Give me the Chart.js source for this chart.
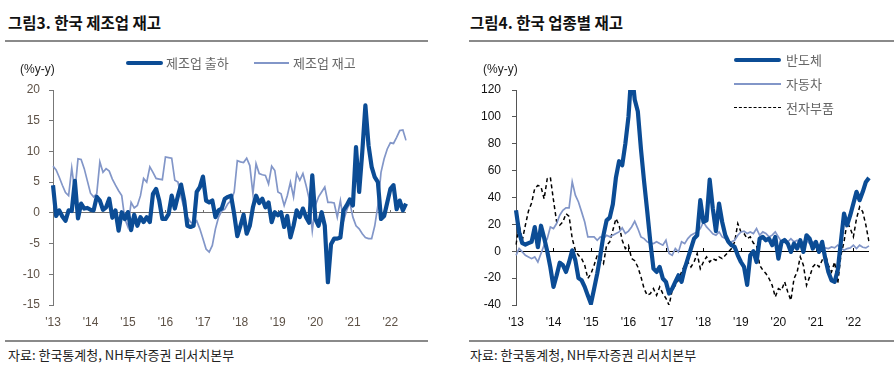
<!DOCTYPE html>
<html>
<head>
<meta charset="utf-8">
<script src="https://cdn.jsdelivr.net/npm/chart.js"></script>
<style>
    body { margin: 0; width: 894px; height: 369px; background: #fff; position: relative; overflow: hidden; font-family: 'Noto Sans CJK KR', sans-serif; }
    .title { position: absolute; top: 12px; font-size: 15.5px; font-weight: 700; color: #111; line-height: 20px; white-space: nowrap; }
    .rule { position: absolute; height: 2px; background: #8a8a8a; }
    .src { position: absolute; top: 346px; font-size: 13px; color: #222; line-height: 18px; white-space: nowrap; }
    .unit { position: absolute; top: 61px; font-family: 'Liberation Sans Narrow', 'Liberation Sans', sans-serif; font-size: 12px; line-height: 16px; color: #222; }
    .lg { position: absolute; font-size: 13px; color: #666; line-height: 16px; white-space: nowrap; }
    .sw { position: absolute; }
    .box { position: absolute; top: 0; width: 447px; height: 369px; }
</style>
</head>
<body>
<div class="title" style="left:8px">그림3. 한국 제조업 재고</div>
<div class="title" style="left:470px">그림4. 한국 업종별 재고</div>
<div class="rule" style="left:5px;width:423px;top:40px"></div>
<div class="rule" style="left:469px;width:425px;top:40px"></div>
<div class="rule" style="left:5px;width:423px;top:340px"></div>
<div class="rule" style="left:469px;width:425px;top:340px"></div>
<div class="src" style="left:8px">자료: 한국통계청, NH투자증권 리서치본부</div>
<div class="src" style="left:470px">자료: 한국통계청, NH투자증권 리서치본부</div>

<div class="box" style="left:0"><canvas id="chart_left" width="447" height="369"></canvas></div>
<div class="box" style="left:447px"><canvas id="chart_right" width="447" height="369"></canvas></div>

<div class="unit" style="left:20px">(%y-y)</div>
<div class="unit" style="left:483px">(%y-y)</div>

<!-- legend, left chart -->
<div class="sw" style="left:126px;top:61px;width:37px;height:4px;border-radius:2px;background:#0b4c95"></div>
<div class="lg" style="left:166px;top:55px">제조업 출하</div>
<div class="sw" style="left:254px;top:62px;width:35px;height:2px;background:#8296c8"></div>
<div class="lg" style="left:293px;top:55px">제조업 재고</div>

<!-- legend, right chart -->
<div class="sw" style="left:734px;top:58px;width:47px;height:4px;border-radius:2px;background:#0b4c95"></div>
<div class="lg" style="left:786px;top:52px">반도체</div>
<div class="sw" style="left:734px;top:83px;width:47px;height:2px;background:#8296c8"></div>
<div class="lg" style="left:786px;top:76px">자동차</div>
<div class="sw" style="left:734px;top:107px;width:47px;height:0;border-top:1.5px dashed #000"></div>
<div class="lg" style="left:786px;top:100px">전자부품</div>

<script>
// tick labels, one per January
var yearTicks = ["'13", "'14", "'15", "'16", "'17", "'18", "'19", "'20", "'21", "'22"];
var monthCount = 114; // Jan 2013 .. Jun 2022

// 그림3: 제조업 출하 / 재고 (%y-y)
var shipment = [
    4.5, -0.5, 0.4, -0.6, -1.3, 0.4, 0.3, 5.2, -0.9, 1.5,
    0.7, 0.8, 0.5, 0.4, 2.6, 2.0, 0.5, 0.9, 2.3, -0.8,
    0.4, -2.9, 0.1, -1.0, 0.1, -2.8, -0.3, -2.1, -0.7, -1.5,
    -0.7, -1.5, 3.1, 3.9, 2.0, -1.0, -1.0, -0.2, 2.8, 0.7,
    2.8, 4.6, 2.0, -2.1, -2.3, -2.1, 3.4, 4.2, 5.9, 2.0,
    1.7, 2.0, -0.7, 0.4, 0.7, 2.3, 2.6, 2.8, -0.2, -3.8,
    -2.1, -0.3, -3.4, -2.1, 0.9, 2.8, 1.6, 2.3, 0.9, 1.7,
    -1.5, 0.1, -0.4, 0.1, -2.3, -0.5, -4.0, -2.1, 0.4, -0.7,
    0.7, -0.7, -1.6, 6.1, -1.0, -2.1, 0.1, -2.1, -11.3, -5.1,
    -4.2, -4.2, -4.0, 0.4, 1.2, 2.2, 1.2, 10.7, 3.4, 9.9,
    17.5, 11.0, 7.5, 5.8, 5.0, -1.0, -0.5, 1.7, 3.9, 4.5,
    0.6, 2.0, 0.4, 1.5
];
var inventory = [
    7.6, 7.0, 5.8, 4.5, 3.3, 2.8, 7.3, 3.4, 8.8, 8.7,
    7.2, 5.2, 3.2, 2.6, 3.1, 8.3, 6.6, 7.2, 6.8, 5.5,
    4.5, 3.6, 2.8, -1.0, -2.3, 1.7, 0.8, 1.2, 2.8, 5.6,
    5.0, 7.5, 6.6, 5.6, 5.5, 5.4, 9.1, 9.0, 8.9, 5.3,
    5.0, 2.6, 0.7, -0.7, -1.5, -1.8, -1.3, -2.6, -4.2, -5.9,
    -6.4, -5.3, -2.6, -0.7, 0.3, 0.6, 1.5, 2.0, 3.4, 8.5,
    8.3, 8.2, 8.9, 7.7, 3.1, 8.0, 6.4, 6.2, 6.1, 4.7,
    7.6, 6.9, 3.4, 3.1, 1.2, 2.8, 5.0, 2.6, 6.4, 5.3,
    6.4, 4.5, 2.3, -2.9, 1.2, 2.6, 3.4, 4.2, 1.7, 1.7,
    1.6, -0.7, 2.0, -1.3, 0.4, 1.7, -0.7, -2.1, -2.6, -3.4,
    -4.0, -4.2, -4.2, -2.1, 1.2, 6.6, 8.8, 10.4, 11.4, 11.3,
    12.3, 13.4, 13.5, 11.8
];

// 그림4: 업종별 재고 (%y-y)
var semis = [
    30.5, 14, 6, 5, 6, 7, 18, 3, 19, 10,
    0, -12, -26.5, -18, -8.5, -10.4, -15.4, -8, 0.7, -6.7,
    -20, -21.6, -26.5, -33, -39, -28, -16.6, -3, 12, 23,
    25, 35, 55, 67, 64, 80, 100, 135, 113, 104,
    76, 52, 30, 7, -12.9, -15.4, -11.7, -20.3, -22.8, -31.5,
    -27.8, -22.8, -17.9, -22.8, -12.9, -5.5, 2, 9.4, 11.9, 38,
    21.8, 23, 53.3, 31.8, 15, 35.5, 21.8, 11.9, 7, 4.5,
    3.2, -3, -8, -11.7, -25, -3, 0, -8, 9.4, 10.7,
    8.2, 9.4, 4.5, 10.7, -5.5, 7, 8.2, 5.7, -0.5, 5.7,
    2, 8.2, -0.5, 11.9, 9.4, 2, 7, -0.5, 7, -5.5,
    -15.4, -21.6, -22.8, -14, 7, 28, 19.4, 26.8, 35.5, 44.2,
    38, 44.2, 51.6, 54.6
];
var autos = [
    -3, 2, -0.5, -3, -4.2, -5.5, -4.2, -8, -1.7, 4.5,
    9.4, 18, 16.9, 20.6, 26.8, 30.5, 32.3, 32.3, 51.6, 41.7,
    36.7, 29.3, 21.8, 10.7, 10.7, 10.7, 8.2, 10.7, 9.4, 11.9,
    10.7, 11.9, 13.2, 14.4, 17.4, 13.2, 15, 18.1, 22.3, 16.9,
    10.7, 9.4, 7, 6, 5.7, 7, 5.7, 4.5, 8.2, -1.7,
    -3, 2, -0.5, 7, 5.7, 9.4, 11.9, 13.2, 14.4, 16.9,
    21.8, 18.1, 15.6, 13, 11.9, 14.4, 10.7, 9.4, 7, 7,
    8.2, 11.9, 14.4, 14.9, 13.2, 14.4, 13.2, 16.9, 11.9, 14.4,
    13.2, 10.7, 12, 14.4, 10.7, 7, 9.4, 7, 9.4, 7,
    8.2, 5.7, 7, 8.2, 5.7, 7, 5.7, 4.5, 3.5, 2.5,
    2, 3.2, 2.5, 4.5, 2.5, 0.7, 2, 2.5, 4.5, 2,
    4.5, 3, 2.5, 4
];
var components = [
    5, 19.4, 8, 19.4, 30, 36, 46.7, 49, 48, 39,
    54, 55, 38, 22, 19.4, 21.8, 28, 26, 9.4, 0.7,
    -3, -5.5, -10.4, -20.3, -16.6, -10.4, -3, -5.5, -9.2, 4.5,
    7, 15.6, 24.3, 19.4, 8.2, 2, 4.5, -5.5, -7, -11.7,
    -19, -27.8, -32.8, -31.5, -27.8, -32.8, -26.5, -31.5, -35, -40.2,
    -29, -25.3, -21.6, -15.4, -10.4, -8, -11.7, -8, -1.7, -13,
    -8, -4.2, -8, -5.5, -6.7, -4.2, -5.5, -3, -0.5, 2,
    7, 20.6, 14.4, 13.2, 9.4, 10.7, 6, 4.5, -10.4, -14,
    -16.6, -20.3, -25.3, -34, -27.8, -29, -22.8, -30.3, -36.5, -20.3,
    -15.4, -4.2, -10.4, -25.3, -19, -11.7, -9.2, -11.7, -6.7, -1.7,
    -10.4, -15.4, -8, -24, -3, 7, 21.8, 16.9, 10.7, 24.3,
    33, 29.3, 19.4, 7
];

var months = [];
for (var i = 0; i < monthCount; i++) {
    months.push('20' + yearTicks[Math.floor(i / 12)].slice(1) + '-' + (i % 12 + 1));
}

var darkBlue = '#0b4c95';
var lightBlue = '#8296c8';
var numFont = "'Liberation Sans Narrow', 'Liberation Sans', sans-serif";

// small marks on the zero line at every January
var janTicks = {
    id: 'janTicks',
    beforeDatasetsDraw: function (chart, args, opts) {
        var xs = chart.scales.x, ys = chart.scales.y, ctx = chart.ctx;
        var y0 = Math.round(ys.getPixelForValue(0));
        ctx.save();
        ctx.strokeStyle = opts.color;
        ctx.lineWidth = 1;
        for (var i = 12; i < months.length; i += 12) {
            var px = Math.round(xs.getPixelForValue(i)) + 0.5;
            ctx.beginPath();
            ctx.moveTo(px, y0 - 3);
            ctx.lineTo(px, y0);
            ctx.stroke();
        }
        ctx.restore();
    }
};

function makeOptions(cfg) {
    return {
        responsive: false,
        animation: false,
        layout: { padding: { top: 90, right: cfg.padRight, bottom: 34, left: 0 } },
        plugins: {
            legend: { display: false },
            tooltip: { enabled: false },
            janTicks: { color: cfg.zeroColor }
        },
        elements: { point: { radius: 0 }, line: { tension: 0 } },
        scales: {
            x: {
                type: 'category',
                offset: false,
                afterFit: function (a) { a.height = 30; },
                grid: { display: false, drawTicks: false },
                border: { display: false },
                ticks: {
                    autoSkip: false,
                    maxRotation: 0,
                    padding: 10,
                    color: cfg.tickColor,
                    font: { family: numFont, size: 12 },
                    callback: function (v, i) { return i % 12 === 0 ? yearTicks[i / 12] : ''; }
                }
            },
            y: {
                min: cfg.min,
                max: cfg.max,
                afterFit: function (a) { a.width = cfg.axisWidth; },
                border: { display: true, color: cfg.axisColor, width: 1 },
                grid: {
                    drawTicks: true,
                    tickLength: 4,
                    tickColor: cfg.axisColor,
                    color: function (c) { return c.tick && c.tick.value === 0 ? cfg.zeroColor : 'transparent'; },
                    lineWidth: 1
                },
                ticks: {
                    stepSize: cfg.step,
                    padding: cfg.tickPad,
                    color: cfg.tickColor,
                    font: { family: numFont, size: 12 }
                }
            }
        }
    };
}

var leftChart = new Chart(document.getElementById('chart_left'), {
    type: 'line',
    data: {
        labels: months,
        datasets: [
            { label: '제조업 출하', data: shipment, borderColor: darkBlue, borderWidth: 4.2, borderJoinStyle: 'round' },
            { label: '제조업 재고', data: inventory, borderColor: lightBlue, borderWidth: 1.7 }
        ]
    },
    options: makeOptions({ min: -15, max: 20, step: 5, axisWidth: 53, padRight: 41, tickPad: 9,
        tickColor: '#5e5247', axisColor: '#777', zeroColor: '#6e6e6e' }),
    plugins: [janTicks]
});

var rightChart = new Chart(document.getElementById('chart_right'), {
    type: 'line',
    data: {
        labels: months,
        datasets: [
            { label: '반도체', data: semis, borderColor: darkBlue, borderWidth: 4.2, borderJoinStyle: 'round' },
            { label: '자동차', data: autos, borderColor: lightBlue, borderWidth: 1.7 },
            { label: '전자부품', data: components, borderColor: '#000', borderWidth: 1.5, borderDash: [4, 3] }
        ]
    },
    options: makeOptions({ min: -40, max: 120, step: 20, axisWidth: 69, padRight: 25, tickPad: 11,
        tickColor: '#111', axisColor: '#555', zeroColor: '#000' }),
    plugins: [janTicks]
});
</script>
</body>
</html>
